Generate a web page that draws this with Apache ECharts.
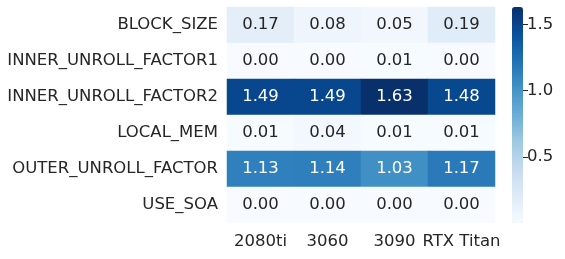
<!DOCTYPE html>
<html><head><meta charset="utf-8">
<script src="https://cdn.jsdelivr.net/npm/echarts@6/dist/echarts.min.js"></script>
<style>html,body{margin:0;padding:0;background:#fff}#c{width:565px;height:259px}</style>
</head><body><div id="c"></div>
<script>
var gpus = ['2080ti', '3060', '3090', 'RTX Titan'];
var params = ['BLOCK_SIZE', 'INNER_UNROLL_FACTOR1', 'INNER_UNROLL_FACTOR2', 'LOCAL_MEM', 'OUTER_UNROLL_FACTOR', 'USE_SOA'];
var values = [
  [0.17, 0.08, 0.05, 0.19],
  [0.00, 0.00, 0.01, 0.00],
  [1.49, 1.49, 1.63, 1.48],
  [0.01, 0.04, 0.01, 0.01],
  [1.13, 1.14, 1.03, 1.17],
  [0.00, 0.00, 0.00, 0.00]
];
var colorbarTicks = [0.5, 1.0, 1.5];
var cmin = 0.004, cmax = 1.63;
var blues = ['#f7fbff','#deebf7','#c6dbef','#9ecae1','#6baed6','#4292c6','#2171b5','#08519c','#08306b'];
var font = 'DejaVu Sans';
var txt = '#262626';
var fs = 16.5;

var data = [];
values.forEach(function (row, r) {
  row.forEach(function (v, c) {
    data.push({ value: [c, r, v], label: { color: v > 0.8 ? '#ffffff' : txt } });
  });
});

var chart = echarts.init(document.getElementById('c'), null, { renderer: 'canvas' });
chart.setOption({
  animation: false,
  grid: [
    { left: 227, top: 7, width: 268, height: 216 },
    { left: 512, top: 7, width: 11, height: 216 }
  ],
  xAxis: [
    { type: 'category', gridIndex: 0, data: gpus, axisLine: { show: false }, axisTick: { show: false },
      splitArea: { show: false },
      axisLabel: { fontFamily: font, fontSize: fs, color: txt, margin: 10, interval: 0, hideOverlap: false } },
    { type: 'category', gridIndex: 1, data: [''], show: false }
  ],
  yAxis: [
    { type: 'category', gridIndex: 0, data: params, inverse: true, axisLine: { show: false }, axisTick: { show: false },
      axisLabel: { fontFamily: font, fontSize: fs, color: txt, margin: 9, interval: 0 } },
    { type: 'value', gridIndex: 1, position: 'right', min: cmin, max: cmax,
      axisLine: { show: false }, splitLine: { show: false },
      axisTick: { show: true, length: 5, lineStyle: { color: txt }, customValues: colorbarTicks },
      axisLabel: { fontFamily: font, fontSize: fs, color: txt, margin: 4, customValues: colorbarTicks,
        formatter: function (v) { return v.toFixed(1); } } }
  ],
  visualMap: {
    type: 'continuous', min: cmin, max: cmax, seriesIndex: 0, orient: 'vertical',
    left: 512, top: 7, itemWidth: 11, itemHeight: 216, padding: 0, text: null,
    calculable: false, hoverLink: false, showLabel: false,
    inRange: { color: blues }
  },
  series: [
    { type: 'heatmap', xAxisIndex: 0, yAxisIndex: 0, data: data,
      label: { show: true, fontFamily: font, fontSize: fs,
        formatter: function (p) { return p.value[2].toFixed(2); } },
      itemStyle: { borderWidth: 0 } },
    { type: 'scatter', xAxisIndex: 1, yAxisIndex: 1, data: [], silent: true }
  ]
});
</script></body></html>
